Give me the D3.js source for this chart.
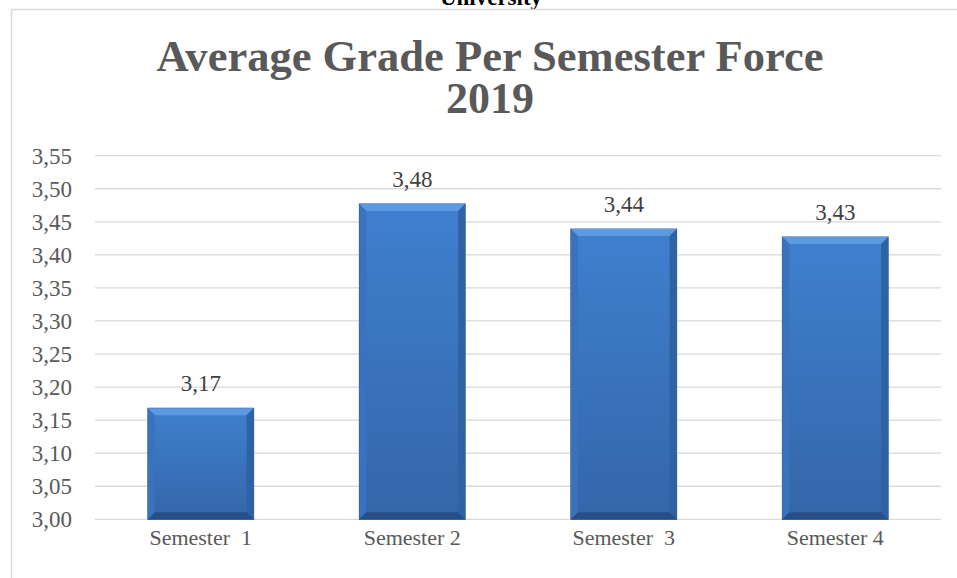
<!doctype html>
<html>
<head>
  <script src="https://cdnjs.cloudflare.com/ajax/libs/d3/7.8.5/d3.min.js"></script>
  <style>
    body { margin: 0; background: #fff; }
    svg { display: block; }
    text { font-family: "Liberation Serif", "DejaVu Serif", serif; }
  </style>
</head>
<body>
  <svg id="chart" width="957" height="578"></svg>
  <script>
    // data
    var semesters = ["Semester  1", "Semester 2", "Semester  3", "Semester 4"];
    var grades = [3.168, 3.477, 3.439, 3.427];
    var yTicks = [3.00, 3.05, 3.10, 3.15, 3.20, 3.25, 3.30, 3.35, 3.40, 3.45, 3.50, 3.55];

    var svg = d3.select("#chart");
    var comma = d3.formatLocale({ decimal: ",", thousands: ".", grouping: [3], currency: ["", ""] });
    var fmt = comma.format(".2f");

    var x = d3.scaleBand().domain(semesters).range([95, 941]).paddingInner(0.5).paddingOuter(0.25);
    var y = d3.scaleLinear().domain([3, 3.55]).range([519.3, 155.7]);

    // page bits outside the chart
    svg.append("text")
      .attr("x", 491).attr("y", 5)
      .attr("text-anchor", "middle")
      .style("font-weight", "bold").style("font-size", "23px").style("fill", "#000")
      .text("University");

    svg.append("path")
      .attr("d", "M11.5,578 V9.5 H957")
      .attr("fill", "none").attr("stroke", "#d9d9d9").attr("stroke-width", 1.5);

    // title
    var title = svg.append("text")
      .attr("text-anchor", "middle")
      .style("font-weight", "bold").style("font-size", "44px").style("fill", "#595959");
    title.append("tspan").attr("x", 490).attr("y", 71).attr("textLength", 667).attr("lengthAdjust", "spacingAndGlyphs")
      .text("Average Grade Per Semester Force");
    title.append("tspan").attr("x", 490).attr("y", 113).text("2019");

    // gridlines + y labels
    var yAxis = d3.axisLeft(y).tickValues(yTicks).tickSize(0).tickPadding(23).tickFormat(fmt);
    var gy = svg.append("g").attr("transform", "translate(95,0)").call(yAxis);
    gy.select(".domain").remove();
    gy.selectAll("text")
      .style("font-family", "'Liberation Serif', serif")
      .style("font-size", "23px").style("fill", "#595959");

    svg.append("g").selectAll("line").data(yTicks).enter().append("line")
      .attr("x1", 95).attr("x2", 941)
      .attr("y1", d => y(d)).attr("y2", d => y(d))
      .attr("stroke", "#d9d9d9").attr("stroke-width", 1.3);

    // bar fills
    var defs = svg.append("defs");
    var g1 = defs.append("linearGradient").attr("id", "barFill").attr("x1", 0).attr("y1", 0).attr("x2", 0).attr("y2", 1);
    g1.append("stop").attr("offset", "0%").attr("stop-color", "#3f80cf");
    g1.append("stop").attr("offset", "100%").attr("stop-color", "#3466a9");
    var bev = 7;

    var bars = svg.append("g").selectAll("g").data(grades).enter().append("g");

    bars.append("rect")
      .attr("x", (d, i) => x(semesters[i]))
      .attr("y", d => y(d))
      .attr("width", x.bandwidth())
      .attr("height", d => y(3) - y(d))
      .attr("fill", "url(#barFill)")
      .attr("stroke", "#2a568f").attr("stroke-width", 1);

    // bevel: top light, sides darker, bottom dark
    function bevel(d, i, side) {
      var x0 = x(semesters[i]), x1 = x0 + x.bandwidth(), y0 = y(d), y1 = y(3);
      if (side == "top") return [[x0, y0], [x1, y0], [x1 - bev, y0 + bev], [x0 + bev, y0 + bev]];
      if (side == "left") return [[x0, y0], [x0 + bev, y0 + bev], [x0 + bev, y1 - bev], [x0, y1]];
      if (side == "right") return [[x1, y0], [x1 - bev, y0 + bev], [x1 - bev, y1 - bev], [x1, y1]];
      return [[x0, y1], [x0 + bev, y1 - bev], [x1 - bev, y1 - bev], [x1, y1]];
    }
    var faces = { top: "#5c9ae2", left: "#3a73bd", right: "#2f62a5", bottom: "#264f88" };
    Object.keys(faces).forEach(function (k) {
      bars.append("polygon")
        .attr("points", (d, i) => bevel(d, i, k).join(" "))
        .attr("fill", faces[k]);
    });

    // value labels
    svg.append("g").selectAll("text").data(grades).enter().append("text")
      .attr("x", (d, i) => x(semesters[i]) + x.bandwidth() / 2)
      .attr("y", d => y(d) - 17)
      .attr("text-anchor", "middle")
      .style("font-size", "23px").style("fill", "#404040")
      .text(d => fmt(d));

    // x labels
    svg.append("g").selectAll("text").data(semesters).enter().append("text")
      .attr("x", d => x(d) + x.bandwidth() / 2)
      .attr("y", 545)
      .attr("text-anchor", "middle")
      .attr("xml:space", "preserve")
      .style("white-space", "pre")
      .style("font-size", "22px").style("fill", "#595959")
      .text(d => d);
  </script>
</body>
</html>
